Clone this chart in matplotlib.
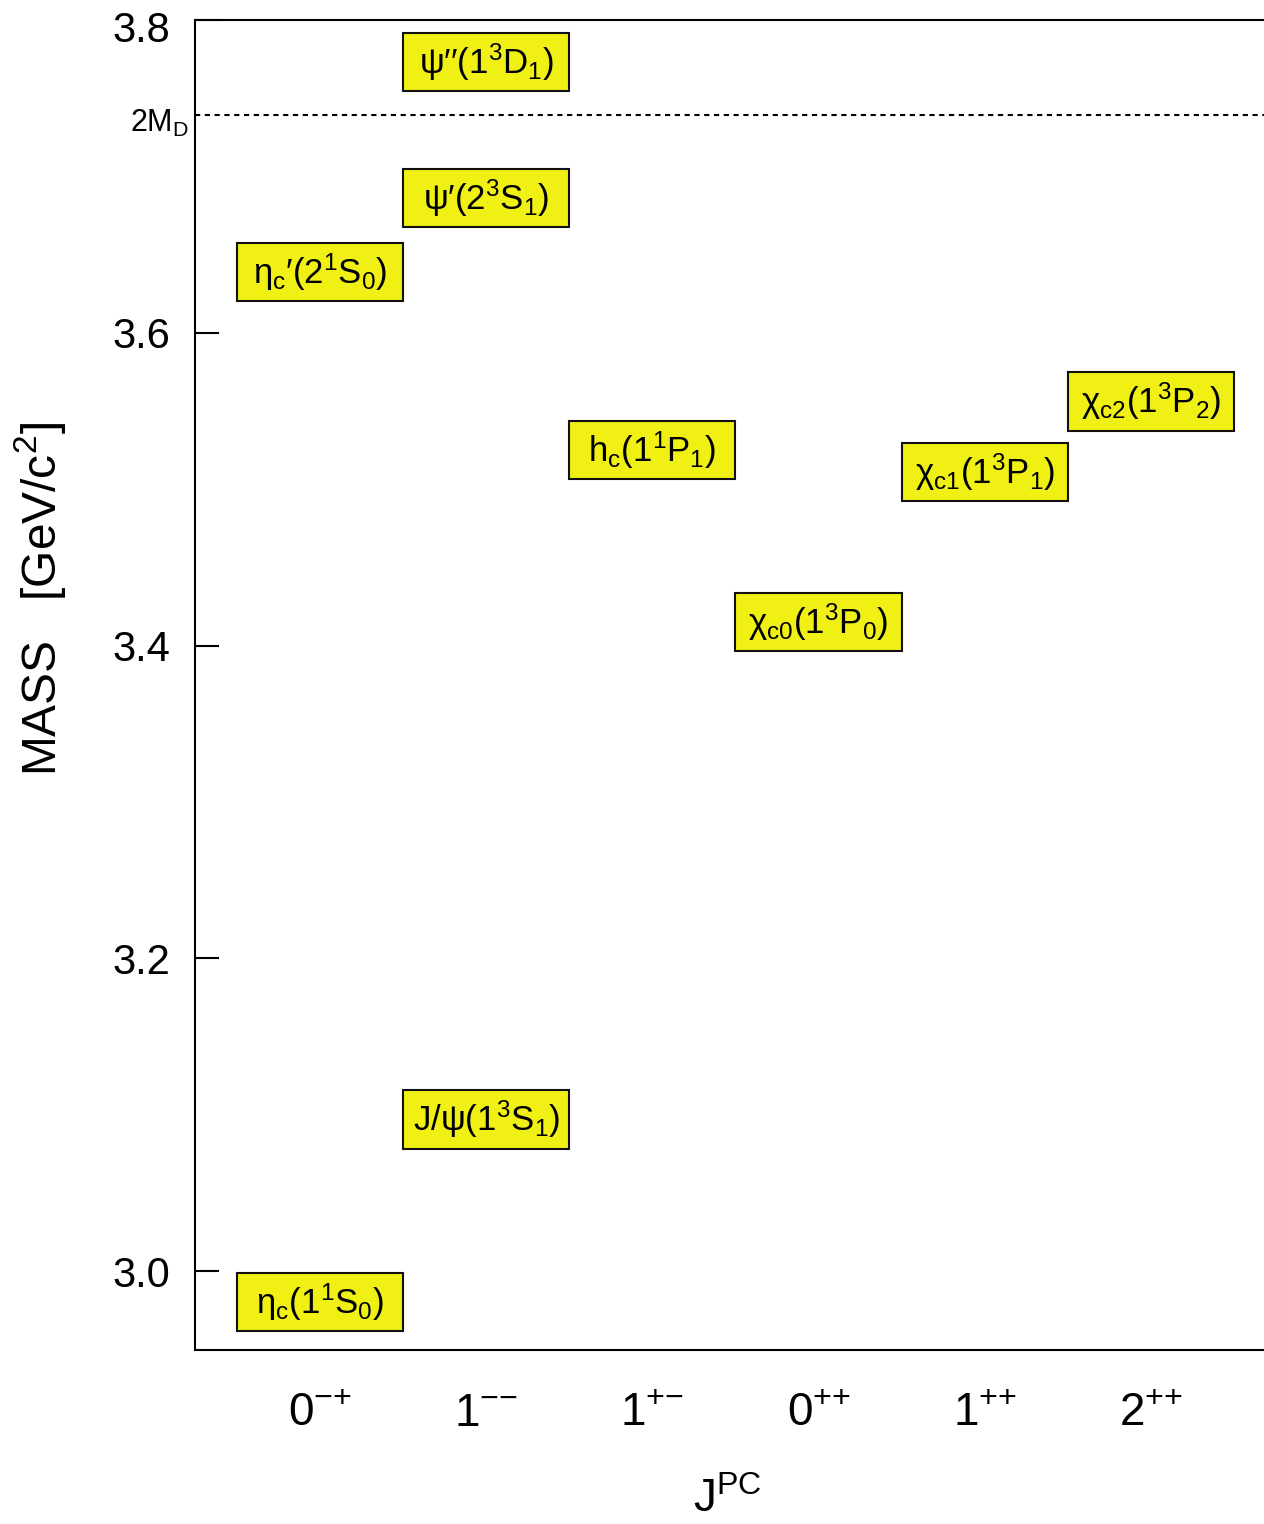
import matplotlib
matplotlib.use("Agg")
import matplotlib.pyplot as plt
import matplotlib.transforms as mtransforms

plt.rcParams['font.family'] = ['Liberation Sans', 'DejaVu Sans']
plt.rcParams['mathtext.fontset'] = 'custom'
plt.rcParams['mathtext.rm'] = 'Liberation Sans'
plt.rcParams['mathtext.it'] = 'Liberation Sans:italic'
plt.rcParams['mathtext.bf'] = 'Liberation Sans:bold'
plt.rcParams['mathtext.default'] = 'regular'

# J^PC columns
jpc_labels = [r"$0^{{-}{+}}$", r"$1^{{-}{-}}$", r"$1^{{+}{-}}$",
              r"$0^{{+}{+}}$", r"$1^{{+}{+}}$", r"$2^{{+}{+}}$"]

# charmonium states: name, column index, mass [GeV/c^2]
state_names = [
    r"$η_c(1^1S_0)$",
    r"$J/ψ(1^3S_1)$",
    r"$η_c′(2^1S_0)$",
    r"$ψ′(2^3S_1)$",
    r"$ψ′′(1^3D_1)$",
    r"$h_c(1^1P_1)$",
    r"$χ_{c0}(1^3P_0)$",
    r"$χ_{c1}(1^3P_1)$",
    r"$χ_{c2}(1^3P_2)$",
]
state_column = [0, 1, 0, 1, 1, 2, 3, 4, 5]
state_mass = [2.980, 3.097, 3.639, 3.686, 3.773, 3.525, 3.415, 3.511, 3.556]

# open-charm threshold
two_md = 3.739

y_ticks = [3.0, 3.2, 3.4, 3.6, 3.8]

W, H = 1264, 1524
fig = plt.figure(figsize=(W / 100, H / 100), dpi=100)
ax = fig.add_axes([195 / W, 1 - 1350 / H, (W - 195) / W, (1350 - 20) / H])

box_h = 0.0373
ax.bar(state_column, [box_h] * len(state_mass),
       bottom=[m - box_h / 2 for m in state_mass],
       width=1.0, color='#F0F014', edgecolor='#111111', linewidth=1.5, zorder=3)
for name, col, m in zip(state_names, state_column, state_mass):
    ax.text(col, m, name, ha='center', va='center', fontsize=25, zorder=4)

ax.axhline(two_md, color='black', linewidth=1.5, linestyle=(0, (2.5, 2.2)), zorder=2)
trans = mtransforms.blended_transform_factory(ax.transAxes, ax.transData)
trans = trans + mtransforms.ScaledTranslation(0, -0.17, fig.dpi_scale_trans)
ax.text(-0.006, two_md, r"$2M_D$", transform=trans, ha='right', va='baseline', fontsize=22)

ax.set_xlim(-0.752, 5.68)
ax.set_ylim(2.9495, 3.8)

ax.set_yticks(y_ticks)
ax.set_yticklabels([f"{v:.1f}" for v in y_ticks])
ax.tick_params(axis='y', direction='in', length=17.5, width=1.5, labelsize=30, pad=18)
# keep the top tick label inside the canvas
top_label = ax.get_yticklabels()[-1]
top_label.set_transform(top_label.get_transform() +
                        mtransforms.ScaledTranslation(0, -0.07, fig.dpi_scale_trans))

ax.set_xticks(range(len(jpc_labels)))
ax.set_xticklabels(jpc_labels)
ax.tick_params(axis='x', length=0, labelsize=33, pad=30)

for side in ['left', 'top', 'bottom']:
    ax.spines[side].set_linewidth(1.5)
ax.spines['right'].set_visible(False)

fig.text(40 / W, 1 - 599 / H, r"MASS   [GeV/c$^2$]", rotation=90,
         ha='center', va='center', fontsize=34.5)
fig.text(727 / W, 1 - 1500 / H, r"J$^{PC}$", ha='center', va='center', fontsize=33)

fig.savefig("out.png", dpi=100)
